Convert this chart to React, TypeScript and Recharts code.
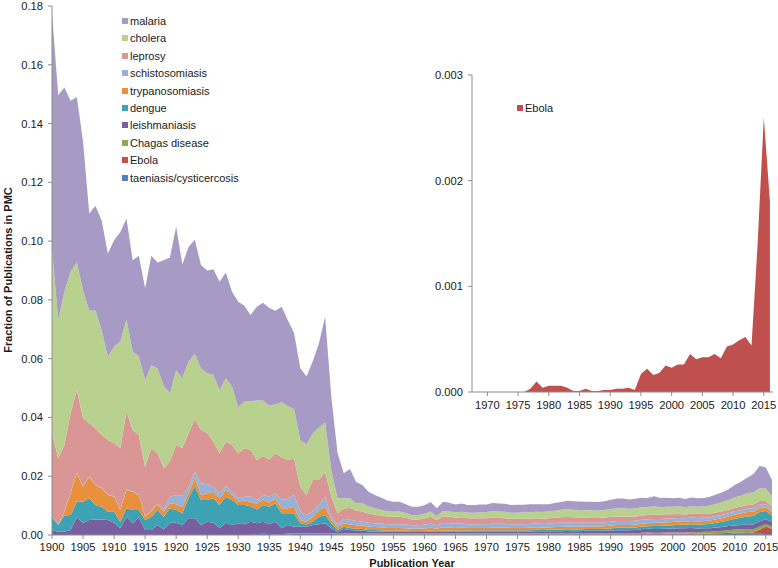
import { AreaChart, Area, XAxis, YAxis } from 'recharts';

const FONT = '"Liberation Sans", Arial, sans-serif';

// publication years on the main chart, 1900..2016
const firstYear = 1900;
const years = Array.from({ length: 117 }, (_, i) => firstYear + i);

const malaria = [
  0.0806, 0.0766, 0.0695, 0.0582, 0.0562, 0.0507, 0.0331, 0.0355, 0.0373, 0.0351,
  0.0362, 0.0372, 0.0343, 0.0311, 0.0343, 0.0313, 0.0372, 0.036, 0.0428, 0.0462,
  0.0489, 0.0387, 0.039, 0.0389, 0.0352, 0.035, 0.036, 0.0369, 0.036, 0.0323,
  0.0359, 0.0325, 0.0294, 0.0319, 0.0332, 0.0332, 0.0318, 0.0325, 0.0293, 0.0257,
  0.0246, 0.0231, 0.0245, 0.0287, 0.036, 0.025, 0.0155, 0.0085, 0.01, 0.0072,
  0.0062, 0.005, 0.0045, 0.0042, 0.0036, 0.0034, 0.0033, 0.003, 0.0029, 0.0028,
  0.0029, 0.0032, 0.0026, 0.0031, 0.003, 0.0027, 0.0028, 0.0026, 0.0026, 0.0027,
  0.0026, 0.0028, 0.0027, 0.0027, 0.0026, 0.0027, 0.0026, 0.0027, 0.0026, 0.0026,
  0.0025, 0.0026, 0.0027, 0.0029, 0.0029, 0.0029, 0.0029, 0.0029, 0.0029, 0.003,
  0.0032, 0.0033, 0.0033, 0.0031, 0.0032, 0.0032, 0.0031, 0.0034, 0.0031, 0.003,
  0.0029, 0.0029, 0.0028, 0.003, 0.0029, 0.0029, 0.003, 0.0032, 0.0033, 0.0036,
  0.0042, 0.0047, 0.0053, 0.0062, 0.0076, 0.0072, 0.0055,
];

const cholera = [
  0.0624, 0.047, 0.0522, 0.0482, 0.0435, 0.0436, 0.0383, 0.0402, 0.0357, 0.0284,
  0.0329, 0.0363, 0.0314, 0.0267, 0.0267, 0.0295, 0.0283, 0.0289, 0.028, 0.0232,
  0.0255, 0.0238, 0.0244, 0.0222, 0.021, 0.0202, 0.0227, 0.0215, 0.0216, 0.0199,
  0.0157, 0.016, 0.0166, 0.0203, 0.0189, 0.0183, 0.0167, 0.0188, 0.0183, 0.0169,
  0.0158, 0.0172, 0.0158, 0.0178, 0.0168, 0.009, 0.0051, 0.0035, 0.0033, 0.0025,
  0.0028, 0.0024, 0.0022, 0.002, 0.0018, 0.0017, 0.0018, 0.0016, 0.0014, 0.0015,
  0.0016, 0.0018, 0.0014, 0.0018, 0.0018, 0.0018, 0.0019, 0.0019, 0.0019, 0.002,
  0.0021, 0.0022, 0.0022, 0.0022, 0.0021, 0.0021, 0.0022, 0.0022, 0.0022, 0.0023,
  0.0023, 0.0024, 0.0025, 0.0026, 0.0026, 0.0026, 0.0026, 0.0026, 0.0025, 0.0026,
  0.0027, 0.0028, 0.0028, 0.0027, 0.0028, 0.0028, 0.0027, 0.0028, 0.0026, 0.0026,
  0.0026, 0.0026, 0.0025, 0.0025, 0.0025, 0.0026, 0.0027, 0.0029, 0.0031, 0.0033,
  0.0036, 0.0038, 0.004, 0.0042, 0.0043, 0.0042, 0.0036,
];

const leprosy = [
  0.0283, 0.0226, 0.0226, 0.027, 0.0281, 0.0231, 0.018, 0.0191, 0.0179, 0.0185,
  0.018, 0.0208, 0.0265, 0.0207, 0.0202, 0.0168, 0.0212, 0.0172, 0.0139, 0.012,
  0.0171, 0.016, 0.0186, 0.0179, 0.0181, 0.0175, 0.0153, 0.0136, 0.015, 0.0158,
  0.0153, 0.0165, 0.0157, 0.0136, 0.0133, 0.0127, 0.0136, 0.0145, 0.0131, 0.0125,
  0.0084, 0.0068, 0.0107, 0.0085, 0.0085, 0.0068, 0.0038, 0.0035, 0.004, 0.0035,
  0.0034, 0.0031, 0.0029, 0.0027, 0.0026, 0.0025, 0.0025, 0.0023, 0.002, 0.002,
  0.0021, 0.0023, 0.0019, 0.0023, 0.0022, 0.0021, 0.0021, 0.002, 0.002, 0.002,
  0.002, 0.0021, 0.002, 0.0019, 0.0018, 0.0018, 0.0018, 0.0018, 0.0018, 0.0018,
  0.0018, 0.0018, 0.0019, 0.0019, 0.0018, 0.0017, 0.0016, 0.0016, 0.0016, 0.0016,
  0.0016, 0.0016, 0.0016, 0.0015, 0.0015, 0.0015, 0.0015, 0.0015, 0.0014, 0.0014,
  0.0014, 0.0014, 0.0013, 0.0013, 0.0013, 0.0013, 0.0013, 0.0012, 0.0012, 0.0012,
  0.0012, 0.0012, 0.0012, 0.0012, 0.0012, 0.0011, 0.0009,
];

const schistosomiasis = [
  0.0001, 0.0001, 0.0002, 0.0002, 0.0002, 0.0002, 0.0002, 0.0002, 0.0002, 0.0002,
  0.0002, 0.0002, 0.0002, 0.0003, 0.0002, 0.0002, 0.0003, 0.0004, 0.0008, 0.0022,
  0.003, 0.004, 0.0018, 0.0019, 0.004, 0.0031, 0.0017, 0.0017, 0.0014, 0.0012,
  0.0012, 0.0013, 0.0019, 0.0013, 0.0015, 0.0019, 0.0017, 0.0028, 0.0033, 0.004,
  0.0029, 0.0023, 0.0018, 0.0019, 0.0034, 0.0011, 0.001, 0.0015, 0.0016, 0.0015,
  0.0014, 0.0014, 0.0013, 0.0013, 0.0013, 0.0013, 0.0013, 0.0013, 0.0012, 0.0012,
  0.0013, 0.0014, 0.0011, 0.0015, 0.0015, 0.0014, 0.0014, 0.0013, 0.0013, 0.0013,
  0.0013, 0.0013, 0.0013, 0.0013, 0.0013, 0.0013, 0.0013, 0.0013, 0.0013, 0.0012,
  0.0013, 0.0013, 0.0014, 0.0014, 0.0014, 0.0014, 0.0013, 0.0013, 0.0013, 0.0013,
  0.0013, 0.0013, 0.0013, 0.0013, 0.0013, 0.0013, 0.0013, 0.0013, 0.0013, 0.0013,
  0.0012, 0.0012, 0.0012, 0.0012, 0.0012, 0.0011, 0.0011, 0.0011, 0.0011, 0.0011,
  0.0011, 0.0011, 0.0012, 0.0012, 0.0012, 0.0011, 0.0009,
];

const trypanosomiasis = [
  0, 0, 0.0012, 0.0074, 0.0097, 0.0051, 0.0073, 0.0068, 0.0063, 0.0057,
  0.0051, 0.004, 0.0062, 0.0062, 0.0051, 0.0011, 0.0018, 0.0017, 0.0018, 0.0017,
  0.002, 0.0021, 0.0017, 0.0029, 0.0017, 0.0023, 0.0022, 0.0023, 0.0023, 0.0017,
  0.0011, 0.0015, 0.0015, 0.0019, 0.0019, 0.0015, 0.0017, 0.0017, 0.0017, 0.0022,
  0.0011, 0.0009, 0.0017, 0.0021, 0.0028, 0.0011, 0.0009, 0.0012, 0.0012, 0.0012,
  0.0012, 0.0011, 0.001, 0.001, 0.0009, 0.0009, 0.0009, 0.0008, 0.0007, 0.0007,
  0.0008, 0.001, 0.0007, 0.0011, 0.001, 0.0009, 0.0009, 0.0009, 0.0008, 0.0008,
  0.0008, 0.0009, 0.0009, 0.0009, 0.0008, 0.0008, 0.0008, 0.0008, 0.0008, 0.0008,
  0.0008, 0.0009, 0.0009, 0.0009, 0.0009, 0.0009, 0.0009, 0.0009, 0.0009, 0.0009,
  0.001, 0.001, 0.001, 0.001, 0.001, 0.001, 0.001, 0.0011, 0.0011, 0.0011,
  0.0011, 0.0011, 0.001, 0.0011, 0.0011, 0.0011, 0.0012, 0.0012, 0.0013, 0.0013,
  0.0014, 0.0014, 0.0015, 0.0015, 0.0015, 0.0012, 0.0012,
];

const dengue = [
  0.0045, 0.0023, 0.0055, 0.0051, 0.0053, 0.0073, 0.0074, 0.0049, 0.0043, 0.0028,
  0.0037, 0.0022, 0.0029, 0.0045, 0.0025, 0.0034, 0.0045, 0.0051, 0.0043, 0.0049,
  0.0043, 0.004, 0.0068, 0.011, 0.0085, 0.0074, 0.0083, 0.0079, 0.0088, 0.0085,
  0.0062, 0.0065, 0.0053, 0.0047, 0.0057, 0.0059, 0.0063, 0.0051, 0.004, 0.0046,
  0.0012, 0.0008, 0.0011, 0.0025, 0.0028, 0.0017, 0.0006, 0.0008, 0.0007, 0.0006,
  0.0005, 0.0005, 0.0005, 0.0004, 0.0004, 0.0004, 0.0004, 0.0004, 0.0003, 0.0003,
  0.0003, 0.0004, 0.0003, 0.0004, 0.0004, 0.0004, 0.0004, 0.0004, 0.0004, 0.0005,
  0.0005, 0.0005, 0.0005, 0.0005, 0.0005, 0.0005, 0.0005, 0.0005, 0.0005, 0.0005,
  0.0005, 0.0006, 0.0006, 0.0006, 0.0006, 0.0006, 0.0006, 0.0006, 0.0006, 0.0007,
  0.0007, 0.0008, 0.0008, 0.0008, 0.0008, 0.0009, 0.0009, 0.001, 0.001, 0.0011,
  0.0011, 0.0012, 0.0012, 0.0013, 0.0013, 0.0013, 0.0014, 0.0016, 0.0018, 0.002,
  0.0023, 0.0025, 0.0027, 0.0029, 0.0031, 0.0028, 0.0023,
];

const leishmaniasis = [
  0.0017, 0.0011, 0.0011, 0.0017, 0.006, 0.004, 0.0051, 0.0053, 0.0053, 0.0051,
  0.0042, 0.0023, 0.0062, 0.004, 0.006, 0.0017, 0.0017, 0.0034, 0.0019, 0.0042,
  0.0042, 0.0034, 0.0057, 0.0057, 0.0034, 0.0045, 0.0042, 0.0023, 0.0042, 0.0034,
  0.004, 0.0037, 0.0045, 0.0037, 0.0041, 0.0034, 0.0043, 0.002, 0.003, 0.0023,
  0.0023, 0.0023, 0.0028, 0.0031, 0.0033, 0.0017, 0.0007, 0.0015, 0.0012, 0.001,
  0.001, 0.0007, 0.0007, 0.0007, 0.0006, 0.0006, 0.0006, 0.0006, 0.0006, 0.0006,
  0.0006, 0.0006, 0.0006, 0.0006, 0.0006, 0.0006, 0.0007, 0.0006, 0.0007, 0.0006,
  0.0006, 0.0006, 0.0006, 0.0006, 0.0006, 0.0006, 0.0006, 0.0006, 0.0007, 0.0007,
  0.0007, 0.0007, 0.0007, 0.0008, 0.0008, 0.0008, 0.0009, 0.0009, 0.0009, 0.0009,
  0.001, 0.0011, 0.0011, 0.0011, 0.0012, 0.0012, 0.0013, 0.0013, 0.0013, 0.0013,
  0.0014, 0.0014, 0.0014, 0.0014, 0.0013, 0.0012, 0.0012, 0.0013, 0.0013, 0.0014,
  0.0014, 0.0015, 0.0016, 0.0016, 0.0017, 0.0017, 0.0014,
];

const chagas = [
  0, 0, 0, 0, 0, 0, 0, 0, 0, 0,
  0, 0, 0, 0, 0, 0, 0, 0, 0, 0,
  0, 0, 0, 0, 0, 0, 0, 0, 0, 0,
  0, 0, 0, 0, 0, 0, 0, 0, 0.0002, 0.0002,
  0.0002, 0.0002, 0.0003, 0.0003, 0.0004, 0.0003, 0.0002, 0.0003, 0.0003, 0.0003,
  0.0003, 0.0003, 0.0003, 0.0003, 0.0003, 0.0003, 0.0003, 0.0003, 0.0003, 0.0003,
  0.0003, 0.0003, 0.0003, 0.0003, 0.0003, 0.0003, 0.0003, 0.0003, 0.0003, 0.0003,
  0.0003, 0.0003, 0.0003, 0.0003, 0.0003, 0.0003, 0.0003, 0.0003, 0.0003, 0.0003,
  0.0003, 0.0003, 0.0003, 0.0003, 0.0003, 0.0003, 0.0003, 0.0003, 0.0003, 0.0003,
  0.0003, 0.0003, 0.0003, 0.0003, 0.0003, 0.0004, 0.0004, 0.0004, 0.0004, 0.0004,
  0.0004, 0.0004, 0.0004, 0.0004, 0.0004, 0.0006, 0.0006, 0.0007, 0.0008, 0.0009,
  0.001, 0.001, 0.0011, 0.0011, 0.0011, 0.0008, 0.0008,
];

const taeniasis = [
  0, 0, 0, 0, 0, 0, 0, 0, 0, 0,
  0, 0, 0, 0, 0, 0, 0, 0, 0, 0,
  0, 0, 0, 0, 0, 0, 0, 0, 0, 0,
  0, 0, 0, 0.0003, 0.0004, 0.0003, 0.0002, 0.0003, 0.0002, 0.0003,
  0.0003, 0.0003, 0.0003, 0.0003, 0.0003, 0.0003, 0.0002, 0.0002, 0.0002, 0.0002,
  0.0002, 0.0002, 0.0002, 0.0002, 0.0002, 0.0002, 0.0002, 0.0002, 0.0002, 0.0002,
  0.0002, 0.0002, 0.0002, 0.0002, 0.0002, 0.0002, 0.0002, 0.0002, 0.0002, 0.0002,
  0.0002, 0.0002, 0.0002, 0.0002, 0.0002, 0.0002, 0.0002, 0.0002, 0.0002, 0.0002,
  0.0002, 0.0002, 0.0002, 0.0002, 0.0002, 0.0002, 0.0002, 0.0002, 0.0002, 0.0002,
  0.0002, 0.0002, 0.0002, 0.0002, 0.0002, 0.0002, 0.0002, 0.0002, 0.0002, 0.0002,
  0.0002, 0.0002, 0.0002, 0.0002, 0.0002, 0.0002, 0.0002, 0.0002, 0.0003, 0.0003,
  0.0004, 0.0004, 0.0004, 0.0004, 0.0004, 0.0003, 0.0003,
];

// Ebola, 1968..2016 (inset and bottom of main stack)
const ebolaFirstYear = 1968;
const ebola = [
  0, 0, 0, 0, 0, 0, 0, 0, 0, 0.00003,
  0.0001, 0.00004, 0.00006, 0.00006, 0.00006, 0.00004, 0.00001, 0.00001, 0.00003, 0.00001,
  0.00001, 0.00002, 0.00002, 0.00003, 0.00003, 0.00004, 0.00002, 0.00017, 0.00022, 0.00016,
  0.00018, 0.00025, 0.00023, 0.00026, 0.00026, 0.00036, 0.00031, 0.00033, 0.00033, 0.00036,
  0.00032, 0.00043, 0.00045, 0.00049, 0.00052, 0.00044, 0.0014, 0.0026, 0.0018,
];

const yearTicks = [
  1900, 1905, 1910, 1915, 1920, 1925, 1930, 1935, 1940, 1945, 1950, 1955,
  1960, 1965, 1970, 1975, 1980, 1985, 1990, 1995, 2000, 2005, 2010, 2015,
];
const insetYearTicks = [1970, 1975, 1980, 1985, 1990, 1995, 2000, 2005, 2010, 2015];
const fractionTicks = [0, 0.02, 0.04, 0.06, 0.08, 0.1, 0.12, 0.14, 0.16, 0.18];
const insetTicks = [0, 0.001, 0.002, 0.003];

// stacking order bottom -> top; legend shows it top -> bottom
const series = [
  { key: 'taeniasis', name: 'taeniasis/cysticercosis', color: '#4F81BD' },
  { key: 'ebola', name: 'Ebola', color: '#C0504D' },
  { key: 'chagas', name: 'Chagas disease', color: '#8AAA4E' },
  { key: 'leishmaniasis', name: 'leishmaniasis', color: '#7B5EA0' },
  { key: 'dengue', name: 'dengue', color: '#3EA2B5' },
  { key: 'trypanosomiasis', name: 'trypanosomiasis', color: '#E8903C' },
  { key: 'schistosomiasis', name: 'schistosomiasis', color: '#96B2D9' },
  { key: 'leprosy', name: 'leprosy', color: '#D99694' },
  { key: 'cholera', name: 'cholera', color: '#B9D18F' },
  { key: 'malaria', name: 'malaria', color: '#A79AC5' },
];

const ebolaFor = (year: number) =>
  year >= ebolaFirstYear ? ebola[year - ebolaFirstYear] : 0;

const mainData = years.map((year, i) => ({
  year,
  taeniasis: taeniasis[i],
  ebola: ebolaFor(year),
  chagas: chagas[i],
  leishmaniasis: leishmaniasis[i],
  dengue: dengue[i],
  trypanosomiasis: trypanosomiasis[i],
  schistosomiasis: schistosomiasis[i],
  leprosy: leprosy[i],
  cholera: cholera[i],
  malaria: malaria[i],
}));

const insetData = ebola.map((v, i) => ({ year: ebolaFirstYear + i, ebola: v }));

const tickStyle = { fill: '#1a1a1a', fontSize: 11.2, fontFamily: FONT };
const axisColor = '#8c8c8c';

function LegendRow({ top, left, color, label }: { top: number; left: number; color: string; label: string }) {
  return (
    <div style={{ position: 'absolute', top: top - 7, left, height: 14, display: 'flex', alignItems: 'center', whiteSpace: 'nowrap' }}>
      <span style={{ width: 6, height: 6, background: color, marginRight: 2 }} />
      <span style={{ fontSize: 11, fontFamily: FONT, color: '#1a1a1a' }}>{label}</span>
    </div>
  );
}

export default function App() {
  const legendItems = [...series].reverse();
  return (
    <div style={{ position: 'absolute', left: 0, top: 0, width: 778, height: 568, background: '#fff', fontFamily: FONT }}>
      <AreaChart width={778} height={568} data={mainData} margin={{ top: 6, right: 6, bottom: 3, left: 0 }}>
        <XAxis
          dataKey="year"
          type="number"
          domain={[1900, 2016]}
          ticks={yearTicks}
          tick={tickStyle}
          tickSize={4}
          tickMargin={4}
          stroke={axisColor}
          height={30}
        />
        <YAxis
          domain={[0, 0.18]}
          ticks={fractionTicks}
          tickFormatter={(v: number) => v.toFixed(2)}
          tick={tickStyle}
          tickSize={4}
          tickMargin={5}
          stroke={axisColor}
          width={52}
        />
        {series.map((s) => (
          <Area
            key={s.key}
            dataKey={s.key}
            name={s.name}
            stackId="all"
            type="linear"
            stroke="none"
            fill={s.color}
            fillOpacity={1}
            dot={false}
            activeDot={false}
            isAnimationActive={false}
          />
        ))}
      </AreaChart>

      {legendItems.map((s, k) => (
        <LegendRow key={s.key} top={21 + k * 17.4} left={122} color={s.color} label={s.name} />
      ))}

      <div style={{ position: 'absolute', left: 400, top: 60 }}>
        <AreaChart width={378} height={370} data={insetData} margin={{ top: 15, right: 5, bottom: 8, left: 0 }}>
          <XAxis
            dataKey="year"
            type="number"
            domain={[1967.5, 2016.5]}
            ticks={insetYearTicks}
            tick={tickStyle}
            tickSize={4}
            tickMargin={5}
            stroke={axisColor}
            height={30}
          />
          <YAxis
            domain={[0, 0.003]}
            ticks={insetTicks}
            tickFormatter={(v: number) => v.toFixed(3)}
            tick={tickStyle}
            tickSize={4}
            tickMargin={5}
            stroke={axisColor}
            width={72}
          />
          <Area
            dataKey="ebola"
            name="Ebola"
            type="linear"
            stroke="none"
            fill="#C0504D"
            fillOpacity={1}
            dot={false}
            activeDot={false}
            isAnimationActive={false}
          />
        </AreaChart>
      </div>
      <LegendRow top={108} left={517} color="#C0504D" label="Ebola" />

      <div
        style={{
          position: 'absolute',
          left: 8,
          top: 270,
          transform: 'translate(-50%, -50%) rotate(-90deg)',
          whiteSpace: 'nowrap',
          fontWeight: 'bold',
          fontSize: 11,
          color: '#1a1a1a',
        }}
      >
        Fraction of Publications in PMC
      </div>
      <div
        style={{
          position: 'absolute',
          left: 412,
          top: 563,
          transform: 'translate(-50%, -50%)',
          whiteSpace: 'nowrap',
          fontWeight: 'bold',
          fontSize: 11,
          color: '#1a1a1a',
        }}
      >
        Publication Year
      </div>
    </div>
  );
}
